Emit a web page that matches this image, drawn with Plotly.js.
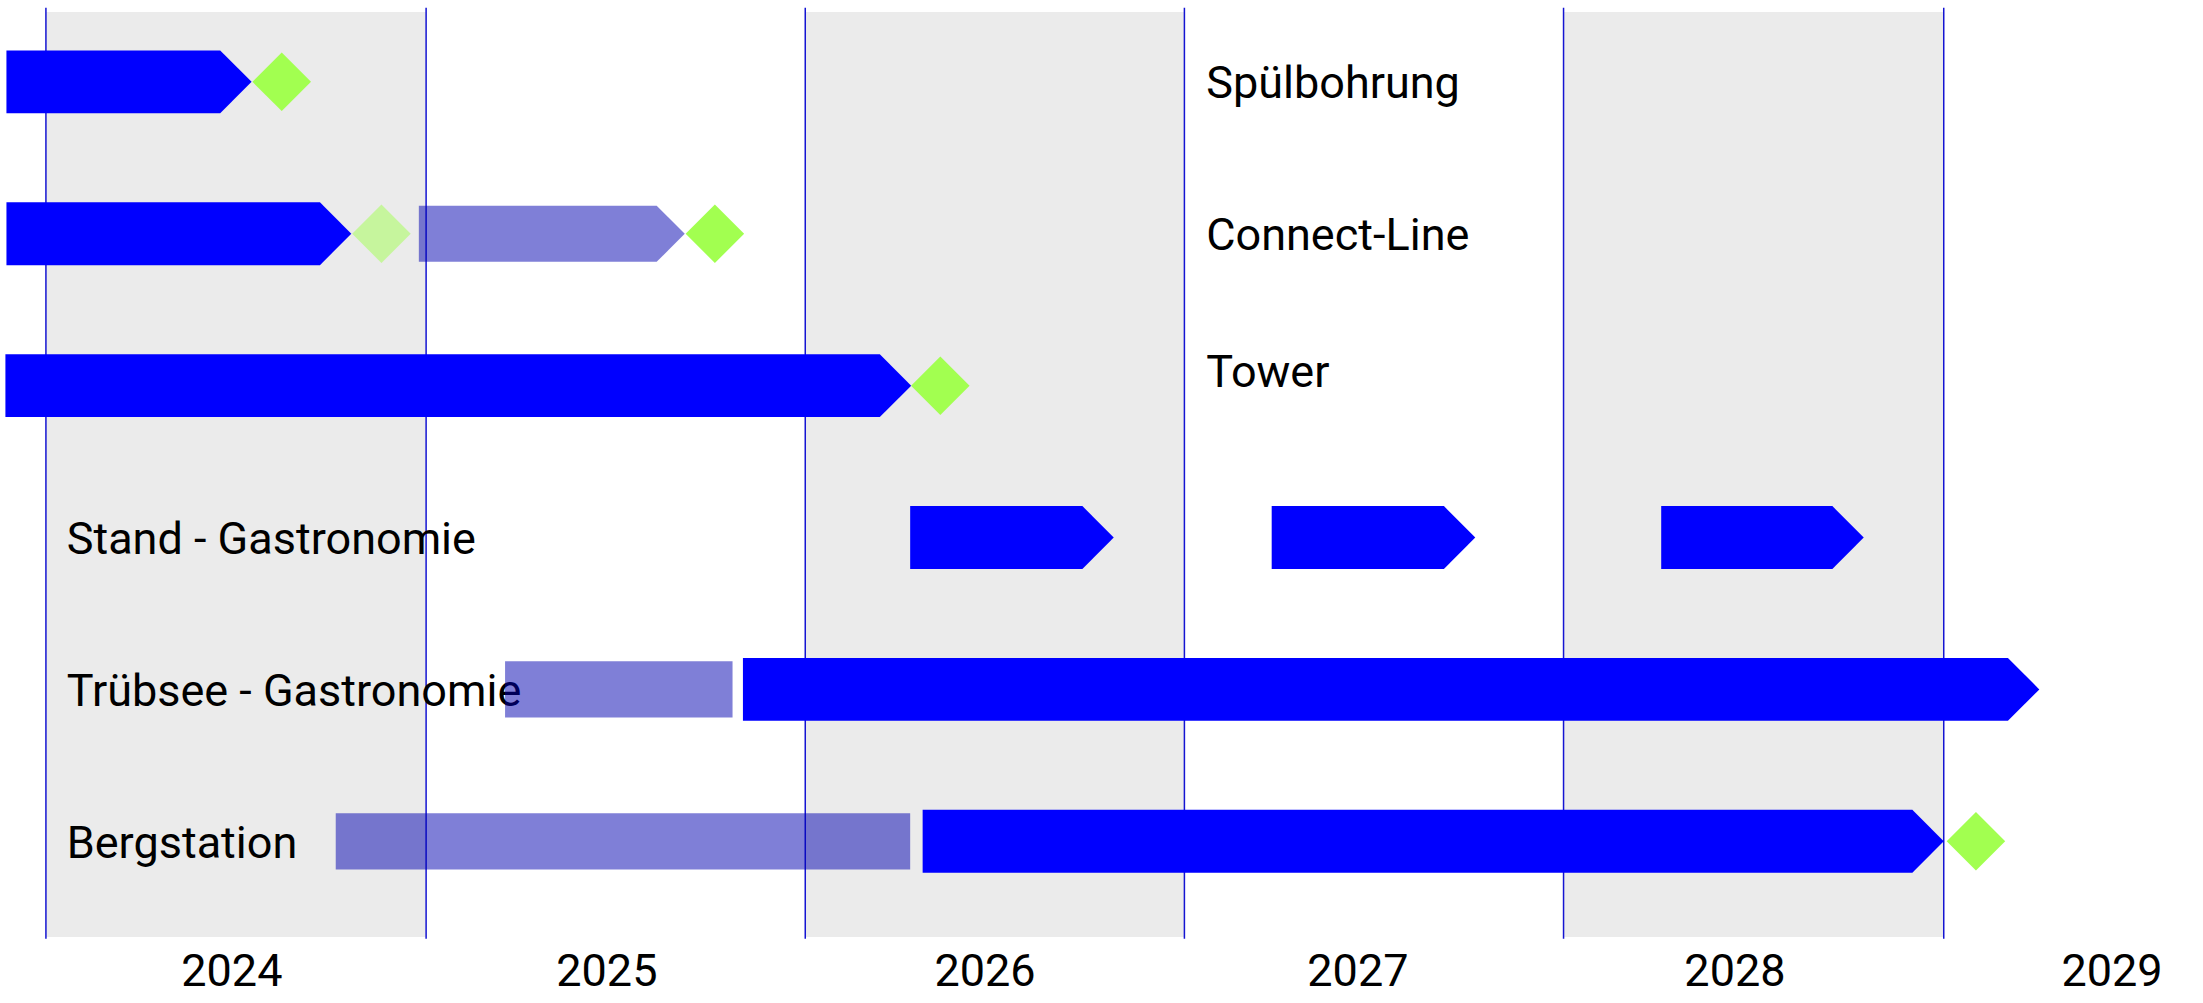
<!DOCTYPE html>
<html>
<head>
<meta charset="utf-8">
<script src="https://cdn.plot.ly/plotly-3.0.1.min.js"></script>
<style>
  html, body { margin: 0; padding: 0; background: #ffffff; }
  #chart { width: 2203px; height: 1003px; }
</style>
</head>
<body>
<div id="chart"></div>
<script>
// rows, top to bottom
const rowNames = [
  "Spülbohrung",
  "Connect-Line",
  "Tower",
  "Stand - Gastronomie",
  "Trübsee - Gastronomie",
  "Bergstation",
];
const labelDates = ["2027-01-22", "2027-01-22", "2027-01-22", "2024-01-21", "2024-01-21", "2024-01-21"];
const labelShift = [0, 0, -0.1, 0, 0, 0];

// phases (end = tip of the arrow)
const barRow = [0, 1, 1, 2, 3, 3, 3, 4, 4, 5, 5];
const barStart = [
  "2023-11-24", "2023-11-24", "2024-12-25", "2023-11-23", "2026-04-12", "2027-03-26",
  "2028-04-04", "2025-03-18", "2025-11-02", "2024-10-06", "2026-04-24",
];
const barEnd = [
  "2024-07-17", "2024-10-21", "2025-09-07", "2026-04-13", "2026-10-25", "2027-10-08",
  "2028-10-16", "2025-10-23", "2029-04-03", "2026-04-12", "2029-01-01",
];
const barFaded = [false, false, true, false, false, false, false, true, false, true, false];
const barArrow = [true, true, true, true, true, true, true, false, true, false, true];

// milestones
const milestoneRow = [0, 1, 1, 2, 5];
const milestoneDate = ["2024-08-15", "2024-11-19", "2025-10-06", "2026-05-11", "2029-02-01"];
const milestoneFaded = [false, true, false, false, false];

// years
const yearStarts = ["2024-01-01", "2025-01-01", "2026-01-01", "2027-01-01", "2028-01-01", "2029-01-01"];
const yearTickDates = ["2024-06-28", "2025-06-24", "2026-06-23", "2027-06-17", "2028-06-14", "2029-06-12"];
const yearLabels = ["2024", "2025", "2026", "2027", "2028", "2029"];

const darkBlue = "#0000ff";
const fadedBlue = "rgba(0, 0, 176, 0.5)";
const milestoneGreen = "#a2ff50";
const shadeGray = "#ebebeb";
const yearLineColor = "rgb(20, 20, 210)";
const fontFamily = "Roboto, 'Open Sans', sans-serif";
const textNudge = 0.033; // puts the cap height on the row centre

function shiftDate(d, days) {
  const t = new Date(d + "T00:00:00Z").getTime() + days * 86400000;
  return new Date(t).toISOString().slice(0, 19).replace("T", " ");
}

const traces = [];

// row labels first, so the faded bars tint them where they overlap
traces.push({
  x: labelDates,
  y: rowNames.map((_, i) => i + labelShift[i] + textNudge),
  text: rowNames,
  type: "scatter",
  mode: "text",
  textposition: "middle right",
  textfont: { family: fontFamily, size: 45, color: "#000000" },
  cliponaxis: false,
  hoverinfo: "skip",
});

for (let i = 0; i < barRow.length; i += 1) {
  const r = barRow[i];
  const half = barFaded[i] ? 0.185 : 0.207;
  const tipDays = barArrow[i] ? half * 146 : 0;
  const rectEnd = shiftDate(barEnd[i], -tipDays);
  const start = shiftDate(barStart[i], 0);
  const end = shiftDate(barEnd[i], 0);
  traces.push({
    x: [start, rectEnd, end, rectEnd, start, start],
    y: [r - half, r - half, r, r + half, r + half, r - half],
    type: "scatter",
    mode: "lines",
    fill: "toself",
    fillcolor: barFaded[i] ? fadedBlue : darkBlue,
    line: { width: 0, color: barFaded[i] ? fadedBlue : darkBlue },
    hoverinfo: "skip",
  });
}

traces.push({
  x: milestoneDate,
  y: milestoneRow,
  type: "scatter",
  mode: "markers",
  marker: {
    symbol: "diamond",
    size: 45,
    color: milestoneGreen,
    opacity: milestoneFaded.map((f) => (f ? 0.5 : 1)),
    line: { width: 0 },
  },
  hoverinfo: "skip",
});

const shapes = [];
for (let i = 0; i < yearStarts.length - 1; i += 2) {
  shapes.push({
    type: "rect",
    xref: "x",
    yref: "paper",
    x0: yearStarts[i],
    x1: yearStarts[i + 1],
    y0: 0,
    y1: 1,
    fillcolor: shadeGray,
    line: { width: 0 },
    layer: "below",
  });
}
for (const d of yearStarts) {
  shapes.push({
    type: "line",
    xref: "x",
    yref: "paper",
    x0: d,
    x1: d,
    y0: -0.002,
    y1: 1.0045,
    line: { color: yearLineColor, width: 1.5 },
    layer: "below",
  });
}

Plotly.newPlot(
  "chart",
  traces,
  {
    width: 2203,
    height: 1003,
    margin: { l: 0, r: 0, t: 12, b: 66 },
    paper_bgcolor: "#ffffff",
    plot_bgcolor: "#ffffff",
    showlegend: false,
    hovermode: false,
    font: { family: fontFamily, color: "#000000", size: 45 },
    xaxis: {
      type: "date",
      range: ["2023-11-17 19:00", "2029-09-07 14:00"],
      tickvals: yearTickDates,
      ticktext: yearLabels,
      tickfont: { family: fontFamily, size: 45, color: "#000000" },
      ticklabelstandoff: 3,
      showgrid: false,
      zeroline: false,
      showline: false,
      ticks: "",
    },
    yaxis: {
      range: [5.63, -0.46],
      visible: false,
      showgrid: false,
      zeroline: false,
    },
    shapes,
  },
  { displayModeBar: false, staticPlot: true },
);
</script>
</body>
</html>
